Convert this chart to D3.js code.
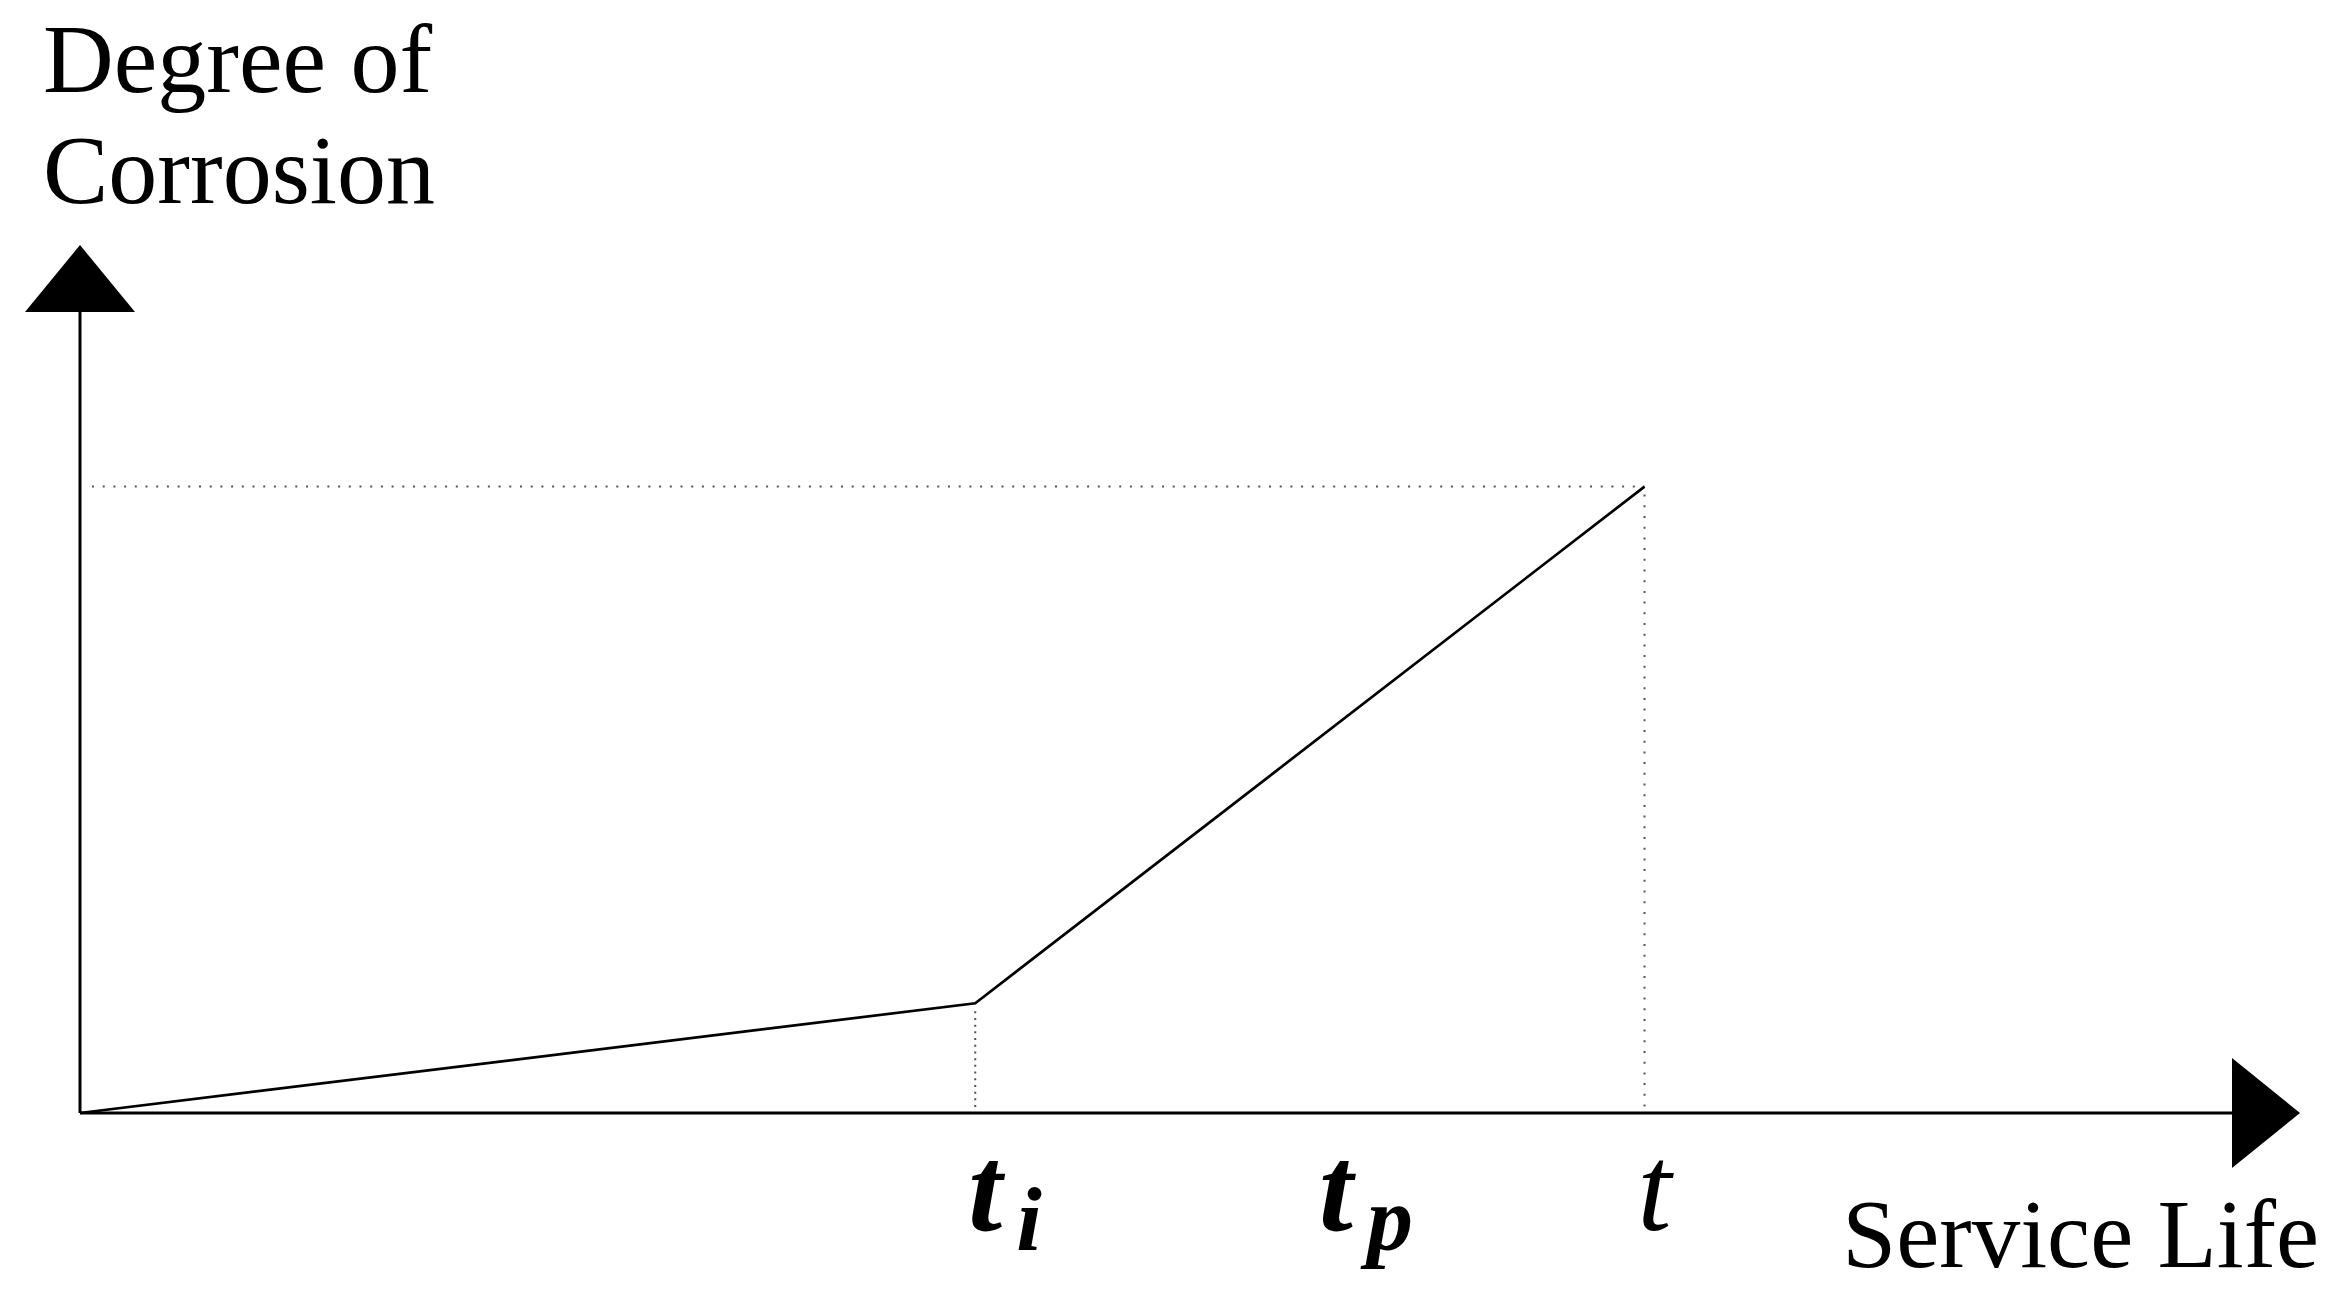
<!DOCTYPE html>
<html lang="en">
<head>
<meta charset="UTF-8">
<title>Degree of Corrosion vs Service Life</title>
<script src="https://d3js.org/d3.v7.min.js"></script>
<style>
  body { margin: 0; background: #fff; }
  text { font-family: "Liberation Serif", "Times New Roman", serif; fill: #000; }
  .axis-line { stroke: #000; stroke-width: 3; }
  .curve { fill: none; stroke: #000; stroke-width: 2.7; }
  .guide { stroke: #555; stroke-width: 2; }
</style>
</head>
<body>
<div id="chart"></div>
<script>
var width = 2338, height = 1295;

// data (arbitrary 0-100 units)
var timePoints = [0, 41.6, 72.7];      // origin, t_i, t
var corrosion  = [0, 13.7, 78.2];
var tickPos    = [41.6, 57.9, 72.7];
var tickBase   = ["t", "t", "t"];
var tickSub    = ["i", "p", ""];
var tickBold   = [true, true, false];
var yTitle     = ["Degree of", "Corrosion"];
var xTitle     = "Service Life";

var x = d3.scaleLinear().domain([0, 100]).range([80, 2232]);
var y = d3.scaleLinear().domain([0, 100]).range([1113, 312]);
var arrowLen = 68, arrowHalf = 55;

var svg = d3.select("#chart").append("svg")
    .attr("width", width)
    .attr("height", height);

// dotted guides
var topI = timePoints.length - 1;
svg.append("line").attr("class", "guide")
    .attr("x1", x(0) + 12).attr("x2", x(timePoints[topI]))
    .attr("y1", y(corrosion[topI])).attr("y2", y(corrosion[topI]))
    .attr("stroke-dasharray", "2,8.7");
svg.append("line").attr("class", "guide")
    .attr("x1", x(timePoints[topI])).attr("x2", x(timePoints[topI]))
    .attr("y1", y(corrosion[topI]) + 8).attr("y2", y(0))
    .attr("stroke-dasharray", "2,8.7");
svg.append("line").attr("class", "guide")
    .attr("x1", x(timePoints[1])).attr("x2", x(timePoints[1]))
    .attr("y1", y(corrosion[1]) + 8).attr("y2", y(0) - 4)
    .attr("stroke-dasharray", "2,4.7");

// axes
svg.append("line").attr("class", "axis-line")
    .attr("x1", x(0)).attr("x2", x(100))
    .attr("y1", y(0)).attr("y2", y(0));
svg.append("line").attr("class", "axis-line")
    .attr("x1", x(0)).attr("x2", x(0))
    .attr("y1", y(0)).attr("y2", y(100));

svg.append("path")
    .attr("d", d3.line()([[x(100), y(0) - arrowHalf], [x(100) + arrowLen, y(0)], [x(100), y(0) + arrowHalf]]) + "Z")
    .attr("fill", "#000");
svg.append("path")
    .attr("d", d3.line()([[x(0) - arrowHalf, y(100)], [x(0), y(100) - 67], [x(0) + arrowHalf, y(100)]]) + "Z")
    .attr("fill", "#000");

// curve
var line = d3.line()
    .x(function(d, i) { return x(timePoints[i]); })
    .y(function(d, i) { return y(corrosion[i]); });
svg.append("path").attr("class", "curve")
    .datum(timePoints)
    .attr("d", line);

// tick labels
var ticks = svg.selectAll(".tlabel")
    .data(tickPos)
    .enter().append("text")
      .attr("class", "tlabel")
      .attr("x", function(d) { return x(d) - 7; })
      .attr("y", 1230)
      .style("font-size", "122px")
      .style("font-style", "italic")
      .style("font-weight", function(d, i) { return tickBold[i] ? "bold" : "normal"; });
ticks.append("tspan").text(function(d, i) { return tickBase[i]; });
ticks.append("tspan")
    .attr("dx", 14)
    .attr("dy", 20)
    .style("font-size", "92px")
    .text(function(d, i) { return tickSub[i]; });

// titles
svg.selectAll(".ytitle")
    .data(yTitle)
    .enter().append("text")
      .attr("class", "ytitle")
      .attr("x", 43)
      .attr("y", function(d, i) { return 92 + i * 111; })
      .style("font-size", "98px")
      .text(function(d) { return d; });

svg.append("text")
    .attr("x", 2319)
    .attr("y", 1267)
    .attr("text-anchor", "end")
    .style("font-size", "97px")
    .text(xTitle);
</script>
</body>
</html>
